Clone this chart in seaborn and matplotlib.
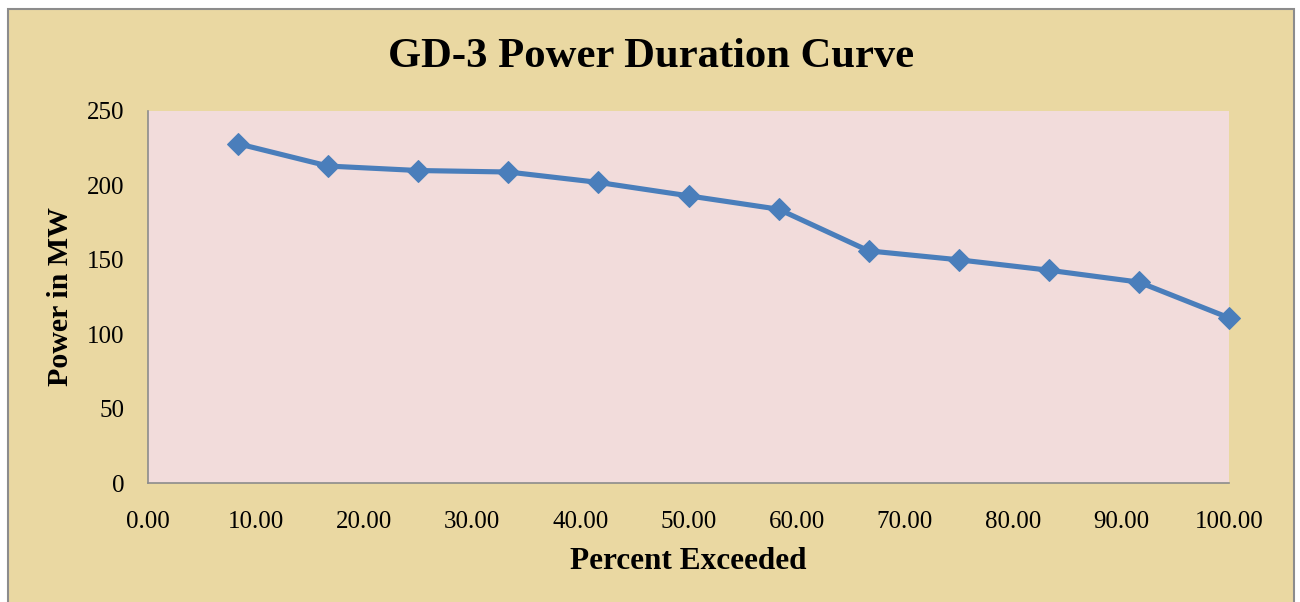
import matplotlib
matplotlib.use("Agg")
import matplotlib.pyplot as plt
import seaborn as sns
import pandas as pd
from matplotlib.patches import Rectangle

# values
percent_exceeded = [8.33, 16.67, 25.00, 33.33, 41.67, 50.00,
                    58.33, 66.67, 75.00, 83.33, 91.67, 100.00]
power_mw = [228, 213, 210, 209, 202, 193, 184, 156, 150, 143, 135, 111]
y_ticks = [0, 50, 100, 150, 200, 250]
x_ticks = [0, 10, 20, 30, 40, 50, 60, 70, 80, 90, 100]

df = pd.DataFrame({"pct": percent_exceeded, "mw": power_mw})

sns.set_theme(style="white")
plt.rcParams["font.family"] = ["Liberation Serif", "DejaVu Serif"]
plt.rcParams["text.color"] = "black"
plt.rcParams["axes.labelcolor"] = "black"

W, H = 1300, 602
fig = plt.figure(figsize=(W / 100, H / 100), dpi=100)
fig.patch.set_facecolor("white")

# parchment backdrop with thin grey frame, runs off the bottom edge
frame = Rectangle((8 / W, -0.05), (1294 - 8) / W, (H - 9) / H + 0.05,
                  transform=fig.transFigure, facecolor="#EAD8A2",
                  edgecolor="#8C8C8C", linewidth=1.5, zorder=-10)
fig.add_artist(frame)

ax = fig.add_axes([148 / W, (H - 483) / H, (1229 - 148) / W, (483 - 111) / H])
ax.set_facecolor("#F2DCDB")
ax.set_zorder(1)

sns.lineplot(data=df, x="pct", y="mw", ax=ax, color="#4A7EBB",
             linewidth=3.7, marker="D", markersize=11,
             markeredgecolor="#4A7EBB", clip_on=False)

ax.set_xlim(0, 100)
ax.set_ylim(0, 250)
ax.set_xticks(x_ticks)
ax.set_xticklabels([f"{v:.2f}" for v in x_ticks])
ax.set_yticks(y_ticks)
ax.tick_params(axis="both", length=0, labelsize=18, colors="black")
ax.tick_params(axis="x", pad=20)
ax.tick_params(axis="y", pad=17)

for side in ["top", "right"]:
    ax.spines[side].set_visible(False)
for side in ["left", "bottom"]:
    ax.spines[side].set_color("#8C8C8C")
    ax.spines[side].set_linewidth(1.2)

ax.set_xlabel("Percent Exceeded", fontsize=22.5, fontweight="bold", labelpad=10)
ax.set_ylabel("Power in MW", fontsize=21.5, fontweight="bold", labelpad=9)

fig.text(651 / W, 1 - 57 / H, "GD-3 Power Duration Curve", ha="center",
         va="center", fontsize=30.7, fontweight="bold", color="black")

fig.savefig("out.png", dpi=100)
